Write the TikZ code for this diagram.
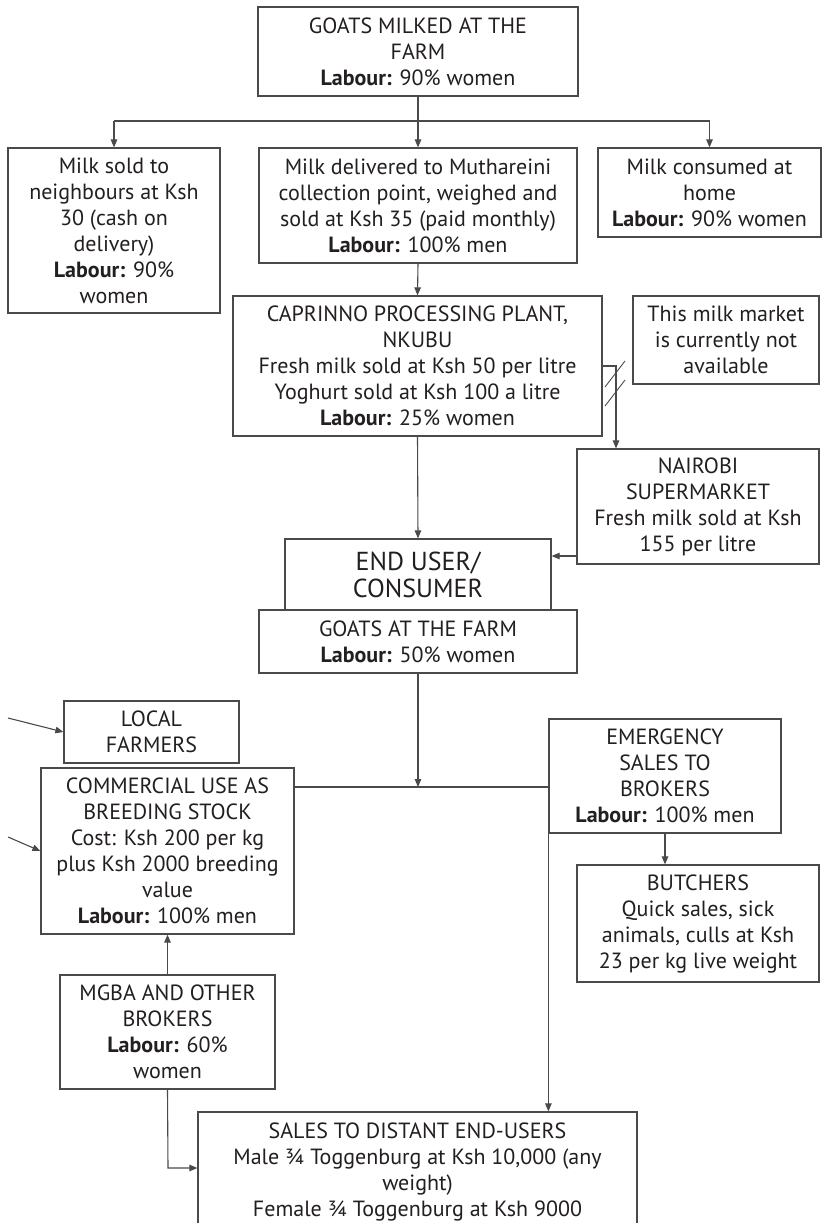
\documentclass[tikz,border=0pt]{standalone}
\usepackage{fontspec}
\setmainfont{PT Sans}
\usetikzlibrary{arrows.meta}
\definecolor{ink}{HTML}{231F20}
\definecolor{rule}{HTML}{4A4A4A}
\tikzset{
  box/.style={draw=rule, line width=1.2pt, rectangle, inner sep=0pt, align=center,
    text=ink, font=\fontsize{22}{26}\selectfont},
  bigtext/.style={font=\fontsize{26}{27}\selectfont},
  arr/.style={draw=rule, line width=1.1pt, -{Triangle[length=8pt,width=6.5pt]}},
  wire/.style={draw=rule, line width=1.1pt}
}
\newcommand{\lab}{\textbf{Labour:}}
\begin{document}
\begin{tikzpicture}[x=1pt,y=-1pt]
\useasboundingbox (0,0) rectangle (822,1223);
\clip (0,0) rectangle (822,1223);
\fill[white] (0,0) rectangle (822,1223);

% milk chain
\node[box, minimum width=320pt, minimum height=89pt] (top) at (418,51.5)
  {GOATS MILKED AT THE\\FARM\\\lab{} 90\% women};
\node[box, minimum width=212pt, minimum height=165pt] (sold) at (114,230.5)
  {Milk sold to\\neighbours at Ksh\\30 (cash on\\delivery)\\\lab{} 90\%\\women};
\node[box, minimum width=318pt, minimum height=115pt] (deliv) at (418,205.5)
  {Milk delivered to Muthareini\\collection point, weighed and\\sold at Ksh 35 (paid monthly)\\\lab{} 100\% men};
\node[box, minimum width=223pt, minimum height=89pt] (home) at (709.5,192.5)
  {Milk consumed at\\home\\\lab{} 90\% women};
\node[box, minimum width=369pt, minimum height=140pt] (capr) at (417.5,366)
  {CAPRINNO PROCESSING PLANT,\\NKUBU\\Fresh milk sold at Ksh 50 per litre\\Yoghurt sold at Ksh 100 a litre\\\lab{} 25\% women};
\node[box, minimum width=186pt, minimum height=88pt] (notavail) at (726,340)
  {This milk market\\is currently not\\available};
\node[box, minimum width=242pt, minimum height=115pt] (nairobi) at (698,506.5)
  {NAIROBI\\SUPERMARKET\\Fresh milk sold at Ksh\\155 per litre};
\node[box, bigtext, minimum width=266pt, minimum height=71pt] (enduser) at (418,574.5)
  {END USER/\\CONSUMER};

% live goats chain
\node[box, minimum width=318pt, minimum height=63pt] (goats) at (418,641.5)
  {GOATS AT THE FARM\\\lab{} 50\% women};
\node[box, minimum width=175pt, minimum height=62pt] (local) at (151.5,732)
  {LOCAL\\FARMERS};
\node[box, minimum width=253pt, minimum height=166pt] (comm) at (167.5,851)
  {COMMERCIAL USE AS\\BREEDING STOCK\\Cost: Ksh 200 per kg\\plus Ksh 2000 breeding\\value\\\lab{} 100\% men};
\node[box, minimum width=232pt, minimum height=114pt] (emerg) at (665,776)
  {EMERGENCY\\SALES TO\\BROKERS\\\lab{} 100\% men};
\node[box, minimum width=242pt, minimum height=117pt] (butch) at (698,923.5)
  {BUTCHERS\\Quick sales, sick\\animals, culls at Ksh\\23 per kg live weight};
\node[box, minimum width=215pt, minimum height=114pt] (mgba) at (167.5,1032)
  {MGBA AND OTHER\\BROKERS\\\lab{} 60\%\\women};
\node[box, minimum width=439pt, minimum height=120pt] (sales) at (417.5,1172)
  {SALES TO DISTANT END-USERS\\Male ¾ Toggenburg at Ksh 10,000 (any\\weight)\\Female ¾ Toggenburg at Ksh 9000};

% connectors, upper part
\coordinate (hl) at (418,121);
\draw[wire] (top.south) -- (hl);
\draw[wire] (hl -| sold.north) -- (hl -| home.north);
\draw[arr] (hl -| sold.north) -- (sold.north);
\draw[arr] (hl) -- (deliv.north);
\draw[arr] (hl -| home.north) -- (home.north);
\draw[arr] (deliv.south) -- (capr.north);

\coordinate (bend) at (616,366);
\draw[arr] (capr.east) -- (bend) -- (bend |- nairobi.north);
\draw[wire, line width=0.9pt] (605,387) -- (625,361);
\draw[wire, line width=0.9pt] (605,406) -- (625,380);

\draw[arr] (capr.south) -- (enduser.north);
\coordinate (nb) at (577,556);
\draw[arr] (nb) -- (nb -| enduser.east);

% connectors, lower part
\coordinate (j) at (418,787);
\draw[arr] (goats.south) -- (j);
\draw[wire] (j -| comm.east) -- (j -| emerg.west);
\draw[arr] (emerg.south) -- (emerg.south |- butch.north);
\draw[arr] (emerg.south west) -- (emerg.south west |- sales.north);
\draw[arr] (mgba.north) -- (comm.south);
\coordinate (mk) at (168,1168);
\draw[arr] (mgba.south) -- (mk) -- (mk -| sales.west);

\coordinate (in1) at (8,718);
\coordinate (in2) at (8,837);
\draw[arr] (in1) -- (local.west);
\draw[arr] (in2) -- (comm.west);
\end{tikzpicture}
\end{document}
